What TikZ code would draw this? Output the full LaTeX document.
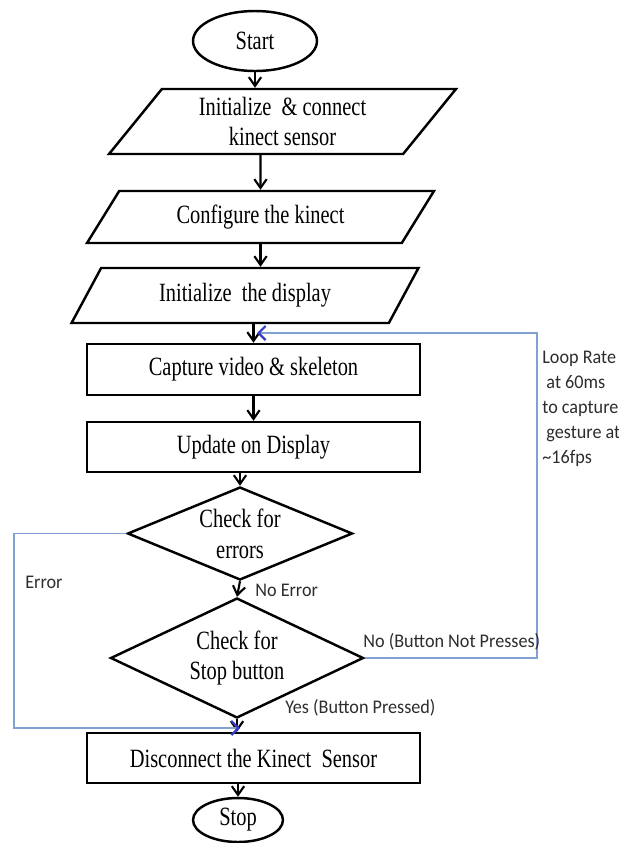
\documentclass[tikz,border=0pt]{standalone}
\usepackage{fontspec}
\usetikzlibrary{shapes.geometric,arrows.meta}
\newfontfamily\boxfont[FakeStretch=0.775]{Liberation Serif}
\newfontfamily\notefont[FakeStretch=0.94]{Carlito}
\definecolor{loopblue}{RGB}{130,160,210}
\definecolor{tipblue}{RGB}{55,60,200}
\definecolor{notegray}{RGB}{45,45,45}

\begin{document}
\begin{tikzpicture}[x=0.02cm,y=-0.02cm,
    >={Straight Barb[length=5pt,width=7pt]},
    every node/.style={font=\boxfont\fontsize{15}{17.5}\selectfont,inner sep=0pt},
    terminal/.style={ellipse,draw,line width=1.4pt},
    io/.style={trapezium,trapezium stretches body,draw,line width=1.4pt,minimum width=6.94cm,align=center},
    process/.style={rectangle,draw,line width=1.4pt,minimum width=6.66cm,minimum height=1cm},
    decision/.style={diamond,draw,line width=1.4pt,align=center},
    flow/.style={->,line width=1.2pt},
    back/.style={draw=loopblue,line width=0.6pt,-{Straight Barb[length=4pt,width=8pt,line width=1.3pt,color=tipblue]}},
    note/.style={font=\notefont\fontsize{11}{14.2}\selectfont,text=notegray,align=left}]
    \useasboundingbox (0,0) rectangle (619,843);

    \node[terminal,minimum width=2.48cm,minimum height=1.2cm] (start) at (255,41) {Start};
    \node[io,trapezium left angle=43,trapezium right angle=137,minimum height=1.3cm] (p1) at (282.5,121.5) {Initialize \ \& connect\\kinect sensor};
    \node[io,trapezium left angle=37,trapezium right angle=143,minimum height=1.04cm] (p2) at (260.5,217) {Configure the kinect};
    \node[io,trapezium left angle=39,trapezium right angle=141,minimum height=1.1cm] (p3) at (245,295.5) {Initialize \ the display};
    \node[process,minimum height=1.02cm] (cap) at (253.5,369.5) {Capture video \& skeleton};
    \node[process] (upd) at (253.5,447) {Update on Display};
    \node[decision,aspect=2.42,minimum width=4.5cm,minimum height=1.86cm] (chk1) at (240,533.5) {Check for\\errors};
    \node[decision,aspect=2.1,minimum width=5.06cm,minimum height=2.4cm] (chk2) at (237,658) {Check for\\Stop button};
    \node[process] (disc) at (253.5,758) {Disconnect the Kinect \ Sensor};
    \node[terminal,minimum width=1.8cm,minimum height=0.88cm] (stop) at (238,820) {Stop};

    \coordinate (loopc) at (537,333);
    \coordinate (loopin) at (257,333);
    \coordinate (errc) at (14,728);
    \coordinate (errin) at (240,728);

    \draw[flow] (start) -- (start |- p1.north);
    \draw[flow] (p2 |- p1.south) -- (p2.north);
    \draw[flow] (p2.south) -- (p2.south |- p3.north);
    \draw[flow] (cap |- p3.south) -- (cap.north);
    \draw[flow] (cap) -- (upd);
    \draw[flow] (chk1 |- upd.south) -- (chk1.north);
    \draw[flow] (chk1.south) -- (chk2.north);
    \draw[flow] (chk2.south) -- (chk2.south |- disc.north);
    \draw[flow] (stop |- disc.south) -- (stop.north);

    \draw[back] (chk2.east) -| (loopc) -- (loopin);
    \draw[back] (chk1.west) -| (errc) -- (errin);

    \node[note,anchor=north west] (rate) at (542,351) {Loop Rate\\\ at 60ms\\to capture\\\ gesture at\\\textasciitilde16fps};
    \node[note,anchor=west] (errlbl) at (25,582) {Error};
    \node[note,anchor=west] (okay) at (255,590) {No Error};
    \node[note,anchor=west] (nolbl) at (363,642) {No (Button Not Presses)};
    \node[note,anchor=west] (yeslbl) at (285,708) {Yes (Button Pressed)};
\end{tikzpicture}
\end{document}
